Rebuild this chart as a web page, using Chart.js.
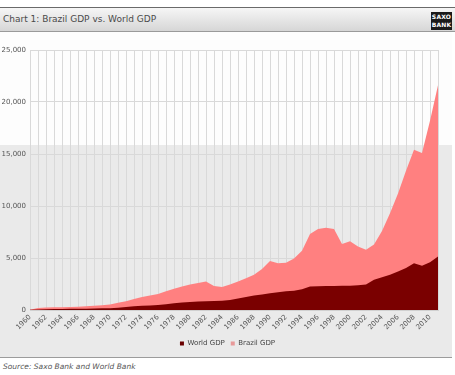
<!DOCTYPE html>
<html>
<head>
<meta charset="utf-8">
<script src="https://cdn.jsdelivr.net/npm/chart.js@4.4.1/dist/chart.umd.min.js"></script>
<style>
  html, body { margin: 0; padding: 0; background: #fff; width: 455px; height: 375px; overflow: hidden; }
  #topline { position: absolute; left: 0; top: 7px; width: 455px; height: 1px; background: #6a6a6a; }
  #header { position: absolute; left: 0; top: 8px; width: 455px; height: 23px; background: linear-gradient(#f6f6f6, #d6d6d6); border-bottom: 1px solid #9a9a9a; }
  #title { position: absolute; left: 3px; top: 14px; font-family: "DejaVu Sans", sans-serif; font-size: 9px; color: #4a4a4a; }
  #logo { position: absolute; left: 431px; top: 12px; width: 21px; height: 18px; background: #1a1a1a; color: #fff; font-family: "DejaVu Sans", sans-serif; font-weight: bold; font-size: 6px; line-height: 8px; text-align: center; padding-top: 1px; box-sizing: border-box; letter-spacing: 0.2px; }
  #bgtop { position: absolute; left: 0; top: 32px; width: 452px; height: 113px; background: #fdfdfd; }
  #bgbot { position: absolute; left: 0; top: 145px; width: 452px; height: 212px; background: #eaeaea; border-bottom: 1px solid #9c9c9c; }
  #source { position: absolute; left: 3px; top: 362px; font-family: "DejaVu Sans", sans-serif; font-style: italic; font-size: 7.5px; color: #555; }
  #wrap { position: absolute; left: 0; top: 40px; width: 455px; height: 317px; }
</style>
</head>
<body>
<div id="topline"></div>
<div id="header"></div>
<div id="title">Chart 1: Brazil GDP vs. World GDP</div>
<div id="logo">SAXO<br>BANK</div>
<div id="bgtop"></div>
<div id="bgbot"></div>
<div id="source">Source: Saxo Bank and World Bank</div>
<div id="wrap"><canvas id="c" width="455" height="317"></canvas></div>
<script>
const years = [];
for (let y = 1960; y <= 2011; y++) years.push(String(y));

const worldGDP = [30, 60, 80, 90, 100, 110, 120, 130, 140, 160,
  180, 220, 280, 350, 400, 430, 470, 560, 650, 730,
  780, 820, 850, 870, 900, 950, 1100, 1250, 1400, 1500,
  1600, 1700, 1800, 1850, 2000, 2250, 2280, 2300, 2300, 2320,
  2330, 2370, 2450, 2900, 3150, 3400, 3700, 4050, 4500, 4250,
  4600, 5150];

const brazilGDP = [30, 200, 250, 260, 270, 290, 320, 350, 400, 450,
  520, 700, 850, 1050, 1250, 1400, 1550, 1800, 2050, 2250,
  2450, 2600, 2750, 2300, 2200, 2450, 2750, 3050, 3400, 3950,
  4700, 4500, 4550, 4950, 5700, 7300, 7800, 7900, 7800, 6350,
  6600, 6100, 5800, 6300, 7600, 9300, 11200, 13400, 15400, 15100,
  18200, 21600];

const yTicks = [0, 5000, 10000, 15000, 20000, 25000];

new Chart(document.getElementById('c'), {
  type: 'line',
  data: {
    labels: years,
    datasets: [
      { label: 'World GDP', data: worldGDP, backgroundColor: '#7a0000', borderColor: '#7a0000', borderWidth: 0, fill: 'origin', pointRadius: 0, tension: 0, order: 0 },
      { label: 'Brazil GDP', data: brazilGDP, backgroundColor: '#ff8080', borderColor: '#ff8080', borderWidth: 0, fill: 'origin', pointRadius: 0, tension: 0, order: 1 }
    ]
  },
  options: {
    responsive: false,
    animation: false,
    layout: { padding: { top: 10, right: 0, left: 0, bottom: 0 } },
    plugins: {
      legend: {
        position: 'bottom',
        labels: {
          boxWidth: 4, boxHeight: 4, padding: 6,
          color: '#444',
          font: { family: 'DejaVu Sans', size: 7 },
          generateLabels(chart) {
            return chart.data.datasets.map((ds, i) => ({
              text: ds.label, fillStyle: i === 0 ? '#6a0000' : '#e89a9a', strokeStyle: 'transparent', lineWidth: 0, datasetIndex: i, fontColor: '#444'
            }));
          }
        }
      },
      tooltip: { enabled: false }
    },
    scales: {
      x: {
        offset: false,
        grid: { color: '#d9d9d9', lineWidth: 1, drawTicks: false },
        border: { color: '#d0d0d0' },
        ticks: {
          autoSkip: false, maxRotation: 45, minRotation: 45, padding: 3,
          color: '#555', font: { family: 'DejaVu Sans', size: 7 },
          callback(v, i) { return i % 2 === 0 ? years[i] : ''; }
        },
        afterFit(s) { s.height = 24; }
      },
      y: {
        min: 0, max: 25000,
        afterBuildTicks(s) { s.ticks = yTicks.map(v => ({ value: v })); },
        grid: { color: '#d9d9d9', lineWidth: 1, drawTicks: false },
        border: { display: false },
        ticks: {
          padding: 4, color: '#555', font: { family: 'DejaVu Sans', size: 7 },
          callback(v) { return v.toLocaleString('en-US'); }
        },
        afterFit(s) { s.width = 30; }
      },
      yRight: {
        position: 'right',
        min: 0, max: 25000,
        grid: { display: false, drawTicks: false },
        border: { display: false },
        ticks: { display: false },
        afterFit(s) { s.width = 17; }
      }
    }
  }
});
</script>
</body>
</html>
